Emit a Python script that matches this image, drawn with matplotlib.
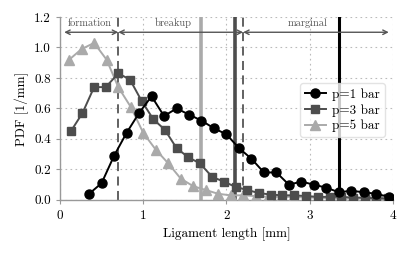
import matplotlib
matplotlib.use("Agg")
import matplotlib.pyplot as plt

plt.rcParams['font.family'] = ['cmr10', 'DejaVu Serif']
plt.rcParams['mathtext.fontset'] = 'cm'
plt.rcParams['axes.unicode_minus'] = False
plt.rcParams['axes.formatter.use_mathtext'] = True

# ---- data ----
p1_x = [0.35, 0.50, 0.65, 0.80, 0.95, 1.10, 1.25, 1.40, 1.55, 1.70, 1.85, 2.00, 2.15,
        2.30, 2.45, 2.60, 2.75, 2.90, 3.05, 3.20, 3.35, 3.50, 3.65, 3.80, 3.95]
p1_y = [0.04, 0.11, 0.29, 0.44, 0.57, 0.68, 0.55, 0.60, 0.56, 0.52, 0.47, 0.43, 0.34,
        0.27, 0.18, 0.18, 0.10, 0.12, 0.10, 0.08, 0.05, 0.06, 0.05, 0.04, 0.02]

p3_x = [0.13, 0.27, 0.41, 0.55, 0.70, 0.84, 0.98, 1.12, 1.26, 1.40, 1.54, 1.68, 1.83, 1.97,
        2.11, 2.25, 2.39, 2.53, 2.67, 2.81, 2.96, 3.10, 3.24, 3.38, 3.52, 3.66, 3.80, 3.94]
p3_y = [0.45, 0.57, 0.74, 0.74, 0.83, 0.79, 0.65, 0.53, 0.46, 0.34, 0.28, 0.24, 0.15, 0.12,
        0.085, 0.065, 0.045, 0.035, 0.03, 0.03, 0.025, 0.02, 0.02, 0.02, 0.015, 0.015, 0.01, 0.01]

p5_x = [0.11, 0.26, 0.41, 0.56, 0.70, 0.85, 1.00, 1.15, 1.30, 1.45, 1.60, 1.75, 1.90, 2.05,
        2.20, 2.35, 2.50, 2.65, 2.80, 2.95, 3.10, 3.25, 3.40, 3.55, 3.70, 3.85]
p5_y = [0.92, 0.99, 1.03, 0.92, 0.74, 0.61, 0.44, 0.33, 0.24, 0.14, 0.09, 0.065, 0.04, 0.03,
        0.03, 0.025, 0.02, 0.02, 0.02, 0.015, 0.015, 0.01, 0.01, 0.01, 0.01, 0.01]

series_labels = ['p=1 bar', 'p=3 bar', 'p=5 bar']

regime_bounds = [0.7, 2.2]
mean_p1, mean_p3, mean_p5 = 3.35, 2.10, 1.70
regime_labels = ['formation', 'breakup', 'marginal']
regime_label_x = [0.36, 1.36, 2.98]
regime_arrows = [(0.05, 0.7), (0.7, 2.2), (2.2, 3.95)]

c1, c3, c5 = '#000000', '#4d4d4d', '#aaaaaa'

fig = plt.figure(figsize=(4.11, 2.54), dpi=100)
ax = fig.add_axes([0.146, 0.213, 0.81, 0.72])

ax.grid(True, color='#bbbbbb', linestyle=(0, (1.5, 3)), linewidth=0.8)
ax.set_axisbelow(True)

ax.axvline(mean_p5, color=c5, lw=2.6, zorder=1)
ax.axvline(mean_p3, color=c3, lw=2.6, zorder=1)
ax.axvline(mean_p1, color=c1, lw=2.2, zorder=1)
for b in regime_bounds:
    ax.axvline(b, color='#555555', lw=1.3, ls=(0, (5, 3)), zorder=1)

ax.plot(p1_x, p1_y, '-o', color=c1, ms=6.5, lw=1.4, label=series_labels[0], zorder=5)
ax.plot(p3_x, p3_y, '-s', color=c3, ms=6.2, lw=1.4, label=series_labels[1], zorder=4)
ax.plot(p5_x, p5_y, '-^', color=c5, ms=6.5, lw=1.4, label=series_labels[2], zorder=3)

for (a, b) in regime_arrows:
    ax.annotate('', xy=(a, 1.1), xytext=(b, 1.1),
                arrowprops=dict(arrowstyle='<->', color='#555555', lw=1.0,
                                shrinkA=0, shrinkB=0, mutation_scale=8))
for lab, xx in zip(regime_labels, regime_label_x):
    ax.text(xx, 1.125, lab, ha='center', va='bottom', fontsize=7.5, color='#555555')

ax.set_xlim(0, 4)
ax.set_ylim(0, 1.2)
ax.set_xticks([0, 1, 2, 3, 4])
ax.set_yticks([0.0, 0.2, 0.4, 0.6, 0.8, 1.0, 1.2])
ax.set_yticklabels(['0.0', '0.2', '0.4', '0.6', '0.8', '1.0', '1.2'])
for s in ['top', 'right']:
    ax.spines[s].set_visible(False)
for s in ['left', 'bottom']:
    ax.spines[s].set_color('#999999')
    ax.spines[s].set_linewidth(1.0)
ax.tick_params(colors='#999999', labelcolor='black', labelsize=9.5, length=3, width=0.8)
ax.set_xlabel('Ligament length [mm]', fontsize=9.5)
ax.set_ylabel('PDF [1/mm]', fontsize=9.5)

leg = ax.legend(loc='center right', bbox_to_anchor=(0.995, 0.49), fontsize=9.5,
                framealpha=0.8, edgecolor='#dddddd', handlelength=1.6,
                borderpad=0.35, labelspacing=0.25, handletextpad=0.5)
leg.set_zorder(10)

fig.savefig('out.png', dpi=100)
